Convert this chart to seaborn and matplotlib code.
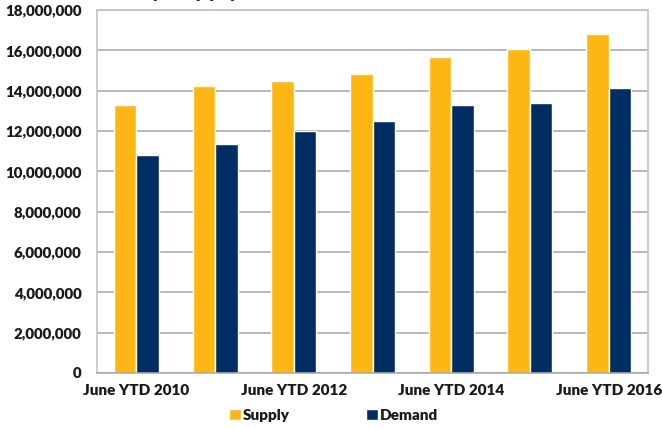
import matplotlib
matplotlib.use("Agg")
import matplotlib.pyplot as plt
import seaborn as sns
import pandas as pd
import numpy as np
from matplotlib.ticker import FuncFormatter, FixedLocator

years = ["June YTD 2010", "June YTD 2011", "June YTD 2012", "June YTD 2013",
         "June YTD 2014", "June YTD 2015", "June YTD 2016"]
supply = [13270000, 14240000, 14490000, 14820000, 15650000, 16050000, 16810000]
demand = [10830000, 11350000, 12000000, 12500000, 13270000, 13410000, 14130000]
series = ["Supply", "Demand"]
colors = ["#FDB714", "#002D62"]
shown_labels = ["June YTD 2010", "", "June YTD 2012", "", "June YTD 2014", "", "June YTD 2016"]

df = pd.DataFrame({
    "year": years * 2,
    "value": supply + demand,
    "series": [series[0]] * len(years) + [series[1]] * len(years),
})

sns.set_theme(style="white")
plt.rcParams["font.family"] = ["Lato", "DejaVu Sans"]

fig = plt.figure(figsize=(6.62, 4.28), dpi=100)
ax = fig.add_axes([97 / 662, 1 - 373 / 428, (648 - 97) / 662, (373 - 10) / 428])

sns.barplot(data=df, x="year", y="value", hue="series", palette=colors,
            width=0.57, ax=ax, legend=True, saturation=1)

ax.set_ylim(0, 18000000)
ax.set_xlim(-0.5, len(years) - 0.5)
ax.yaxis.set_major_locator(FixedLocator(np.arange(0, 18000001, 2000000)))
ax.yaxis.set_major_formatter(FuncFormatter(lambda v, p: f"{int(v):,}"))
ax.yaxis.grid(True, color="#A6A6A6", linewidth=1.1)
ax.set_axisbelow(True)

ax.set_xticks(range(len(years)))
ax.set_xticklabels(shown_labels)
ax.set_xticks(np.arange(-0.5, len(years)), minor=True)
ax.tick_params(axis="x", which="major", length=0, pad=8, labelsize=11, labelcolor="#1a1a1a")
ax.tick_params(axis="x", which="minor", length=4, width=1, color="#A6A6A6", direction="out")
ax.tick_params(axis="y", which="major", length=6, width=1, color="#A6A6A6", direction="out",
               pad=5, labelsize=10.8, labelcolor="#1a1a1a")
for lab in ax.get_xticklabels() + ax.get_yticklabels():
    lab.set_fontweight("heavy")

for side in ["left", "bottom", "top", "right"]:
    ax.spines[side].set_visible(True)
    ax.spines[side].set_color("#BFBFBF")
    ax.spines[side].set_linewidth(1.1)
ax.spines["bottom"].set_color("#A6A6A6")

ax.set_xlabel("")
ax.set_ylabel("")

leg = ax.legend(loc="upper center", bbox_to_anchor=(0.43, -0.06), ncol=2, frameon=False,
                handlelength=0.75, handleheight=0.8, handletextpad=0.15, columnspacing=5.0,
                prop={"weight": "heavy", "size": 11})
for t in leg.get_texts():
    t.set_color("#1a1a1a")

fig.text(13 / 662, 1 + 3 / 428, "Hotel Industry Supply and Demand", ha="left", va="baseline",
         fontsize=18, fontweight="bold", fontstyle="italic", color="#002D62")

fig.savefig("out.png", dpi=100)
